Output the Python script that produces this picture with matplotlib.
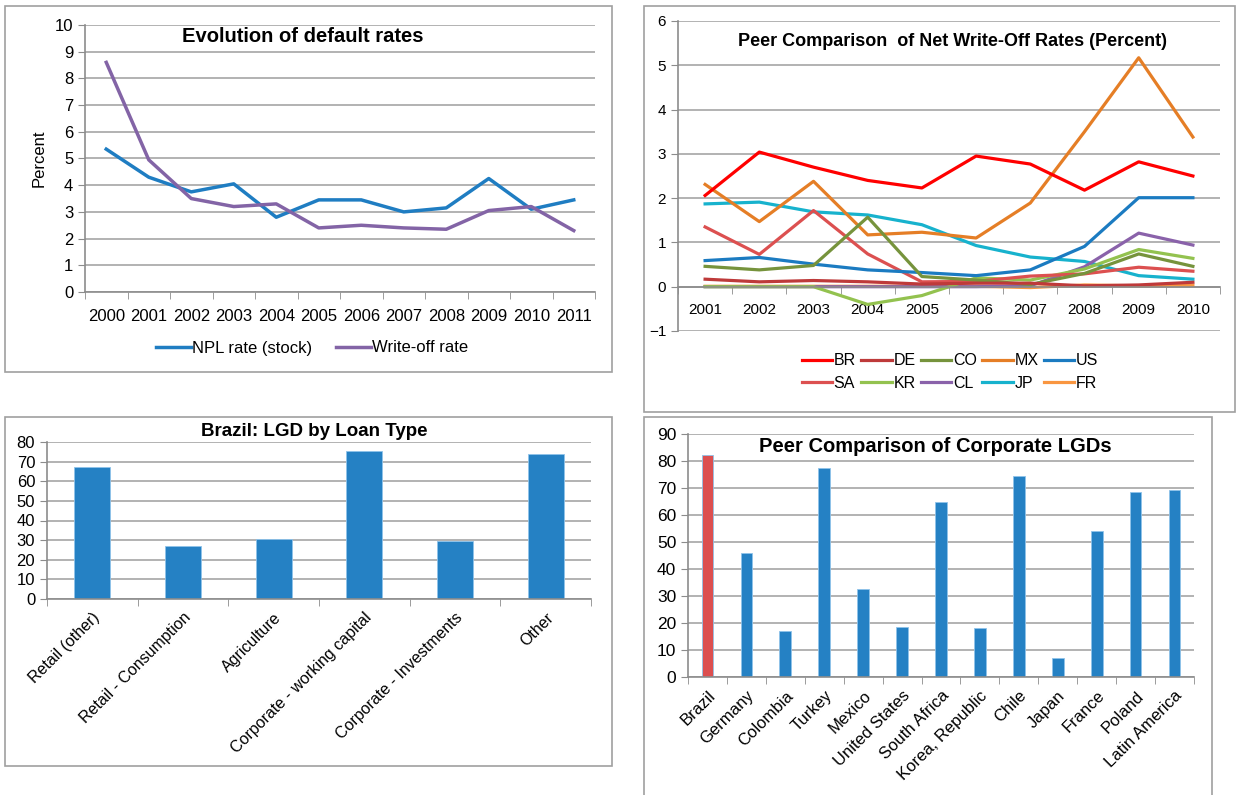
import numpy as np
import matplotlib.pyplot as plt
from matplotlib.patches import Rectangle

plt.rcParams['font.family'] = ['Liberation Sans', 'DejaVu Sans']

W, H = 1236, 795

# --- default rates ---
years_a = ["2000", "2001", "2002", "2003", "2004", "2005",
           "2006", "2007", "2008", "2009", "2010", "2011"]
npl_rate = [5.35, 4.3, 3.75, 4.05, 2.8, 3.45, 3.45, 3.0, 3.15, 4.25, 3.1, 3.45]
writeoff_rate = [8.6, 4.95, 3.5, 3.2, 3.3, 2.4, 2.5, 2.4, 2.35, 3.05, 3.2, 2.3]

# --- net write-off rates by country ---
years_b = ["2001", "2002", "2003", "2004", "2005",
           "2006", "2007", "2008", "2009", "2010"]
wo_BR = [2.06, 3.04, 2.70, 2.40, 2.23, 2.95, 2.77, 2.18, 2.82, 2.50]
wo_DE = [0.17, 0.11, 0.14, 0.11, 0.06, 0.08, 0.08, 0.02, 0.04, 0.10]
wo_CO = [0.46, 0.38, 0.48, 1.57, 0.23, 0.15, 0.05, 0.30, 0.74, 0.46]
wo_MX = [2.31, 1.47, 2.38, 1.17, 1.23, 1.10, 1.89, 3.50, 5.17, 3.38]
wo_US = [0.59, 0.66, 0.51, 0.38, 0.32, 0.25, 0.38, 0.91, 2.01, 2.01]
wo_SA = [1.35, 0.73, 1.72, 0.74, 0.11, 0.12, 0.24, 0.29, 0.44, 0.35]
wo_KR = [0.0, 0.0, 0.0, -0.40, -0.20, 0.20, 0.15, 0.40, 0.84, 0.64]
wo_CL = [0.0, 0.0, 0.0, 0.0, 0.0, 0.0, 0.02, 0.45, 1.21, 0.94]
wo_JP = [1.87, 1.91, 1.69, 1.62, 1.40, 0.93, 0.67, 0.57, 0.25, 0.17]
wo_FR = [0.01, 0.01, 0.01, 0.01, 0.01, 0.01, -0.02, 0.04, 0.02, 0.03]

# --- LGD by loan type ---
loan_types = ["Retail (other)", "Retail - Consumption", "Agriculture",
              "Corporate - working capital", "Corporate - Investments", "Other"]
lgd_loan = [67.3, 27.0, 30.7, 75.5, 29.5, 74.0]

# --- corporate LGD by country ---
countries = ["Brazil", "Germany", "Colombia", "Turkey", "Mexico", "United States",
             "South Africa", "Korea, Republic", "Chile", "Japan", "France",
             "Poland", "Latin America"]
lgd_corp = [82.3, 46.0, 17.0, 77.5, 32.5, 18.5, 65.0, 18.0, 74.5, 7.2, 54.0,
            68.5, 69.3]

grid_col = '#a6a6a6'
box_col = '#a0a0a0'
bar_blue = '#2581c4'


def px_axes(fig, l, t, r, b):
    return fig.add_axes([l / W, 1 - b / H, (r - l) / W, (b - t) / H])


def px_box(fig, l, t, r, b):
    fig.add_artist(Rectangle((l / W, 1 - b / H), (r - l) / W, (b - t) / H,
                             transform=fig.transFigure, fill=False,
                             edgecolor=box_col, lw=1.2, clip_on=False))


def style_axes(ax, n):
    for s in ['top', 'right']:
        ax.spines[s].set_visible(False)
    for s in ['left', 'bottom']:
        ax.spines[s].set_color('#8c8c8c')
        ax.spines[s].set_linewidth(1.2)
    ax.yaxis.grid(True, color=grid_col, lw=1.2)
    ax.set_axisbelow(True)
    ax.set_xlim(-0.5, n - 0.5)
    ax.set_xticks(np.arange(n))
    ax.set_xticks(np.arange(n + 1) - 0.5, minor=True)
    ax.tick_params(axis='x', which='major', length=0)
    ax.tick_params(axis='x', which='minor', length=5, color='#8c8c8c', direction='out')
    ax.tick_params(axis='y', length=5, color='#8c8c8c', labelsize=12)


fig = plt.figure(figsize=(W / 100, H / 100), dpi=100)

# panel 1: evolution of default rates
px_box(fig, 5, 6, 612, 372)
ax1 = px_axes(fig, 85, 25, 595, 292)
style_axes(ax1, len(years_a))
x = np.arange(len(years_a))
ax1.plot(x, npl_rate, color='#1f7dc2', lw=2.5, label="NPL rate (stock)")
ax1.plot(x, writeoff_rate, color='#8364a6', lw=2.5, label="Write-off rate")
ax1.set_ylim(0, 10)
ax1.set_yticks(range(0, 11))
ax1.set_xticklabels(years_a, fontsize=12)
ax1.tick_params(axis='x', which='major', pad=12)
ax1.set_ylabel("Percent", fontsize=12, labelpad=6)
fig.text(303 / W, 1 - 37 / H, "Evolution of default rates", ha='center',
         va='center', fontsize=14.5, fontweight='bold')
ax1.legend(loc='center', bbox_to_anchor=(312 / W, 1 - 348 / H),
           bbox_transform=fig.transFigure, ncol=2, frameon=False, fontsize=12,
           handlelength=2.1, handletextpad=0.1, columnspacing=1.4)

# panel 2: peer comparison of net write-off rates
px_box(fig, 644, 6, 1235, 412)
ax2 = px_axes(fig, 678, 21, 1220, 331)
style_axes(ax2, len(years_b))
ax2.spines['bottom'].set_position(('data', 0))
xb = np.arange(len(years_b))
series = [("BR", wo_BR, '#ff0000'), ("DE", wo_DE, '#be3a3a'),
          ("CO", wo_CO, '#76933c'), ("MX", wo_MX, '#e57e26'),
          ("US", wo_US, '#1b7bc1'), ("SA", wo_SA, '#dc5050'),
          ("KR", wo_KR, '#93c24f'), ("CL", wo_CL, '#8a62aa'),
          ("JP", wo_JP, '#17b2cd'), ("FR", wo_FR, '#f99640')]
# drawn back to front so the red series sits on top
lines = {}
for name, vals, col in reversed(series):
    lines[name] = ax2.plot(xb, vals, color=col, lw=2.3, label=name)[0]
ax2.set_ylim(-1, 6)
ax2.set_yticks(range(-1, 7))
ax2.set_xticklabels(years_b, fontsize=11)
ax2.tick_params(axis='x', which='major', pad=12)
ax2.tick_params(axis='y', labelsize=11)
fig.text(953 / W, 1 - 41 / H, "Peer Comparison  of Net Write-Off Rates (Percent)",
         ha='center', va='center', fontsize=13, fontweight='bold')
order = ["BR", "SA", "DE", "KR", "CO", "CL", "MX", "JP", "US", "FR"]
ax2.legend([lines[n] for n in order], order, loc='center',
           bbox_to_anchor=(950 / W, 1 - 372 / H), bbox_transform=fig.transFigure,
           ncol=5, frameon=False, fontsize=11.5, handlelength=1.9,
           handletextpad=0.1, columnspacing=0.35, labelspacing=0.45)

# panel 3: Brazil LGD by loan type
px_box(fig, 5, 417, 612, 766)
ax3 = px_axes(fig, 47, 442, 591, 599)
style_axes(ax3, len(loan_types))
ax3.bar(np.arange(len(loan_types)), lgd_loan, width=0.4, color=bar_blue,
        edgecolor='#8fc3ea', lw=0.6)
ax3.set_ylim(0, 80)
ax3.set_yticks(range(0, 81, 10))
ax3.set_xticklabels(loan_types, rotation=45, ha='right', rotation_mode='anchor',
                    fontsize=11.5)
ax3.tick_params(axis='x', which='major', pad=8)
fig.text(314 / W, 1 - 432 / H, "Brazil: LGD by Loan Type", ha='center',
         va='center', fontsize=13.5, fontweight='bold')

# panel 4: peer comparison of corporate LGDs
px_box(fig, 644, 417, 1212, 805)
ax4 = px_axes(fig, 688, 434, 1194, 677)
style_axes(ax4, len(countries))
bar_cols = ['#dc4f4f'] + [bar_blue] * (len(countries) - 1)
ax4.bar(np.arange(len(countries)), lgd_corp, width=0.3, color=bar_cols,
        edgecolor='#8fc3ea', lw=0.6)
ax4.set_ylim(0, 90)
ax4.set_yticks(range(0, 91, 10))
ax4.set_xticklabels(countries, rotation=45, ha='right', rotation_mode='anchor',
                    fontsize=12)
ax4.tick_params(axis='x', which='major', pad=8)
ax4.tick_params(axis='y', labelsize=12.5)
fig.text(935 / W, 1 - 447 / H, "Peer Comparison of Corporate LGDs", ha='center',
         va='center', fontsize=14.5, fontweight='bold')

fig.savefig("out.png", dpi=100)
